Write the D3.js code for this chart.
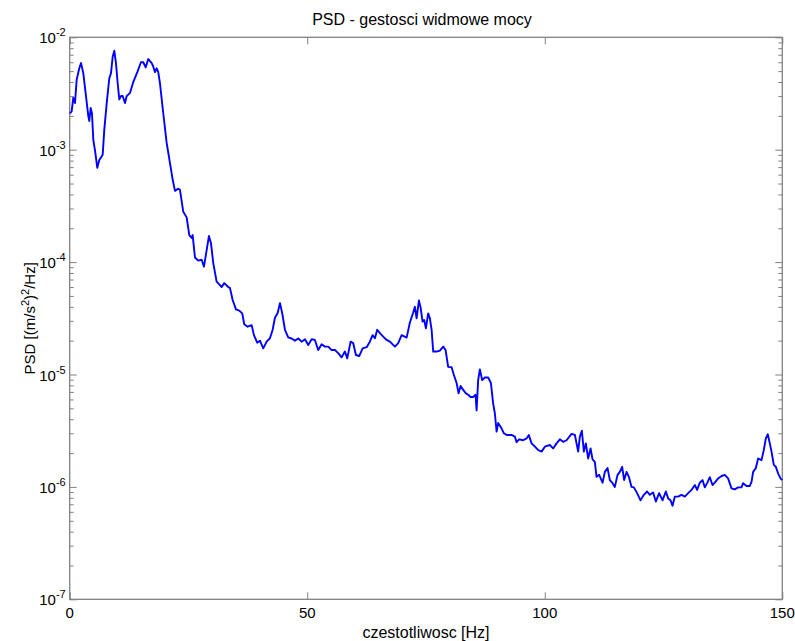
<!DOCTYPE html>
<html>
<head>
<meta charset="utf-8">
<script src="https://cdn.jsdelivr.net/npm/d3@7"></script>
<style>
  body { margin: 0; background: #fff; }
  svg { display: block; font-family: "Liberation Sans", Arial, sans-serif; }
</style>
</head>
<body>
<svg width="795" height="641"></svg>
<script>
// frequency [Hz]
var freq = [0.06, 0.42, 0.76, 1.12, 1.47, 2.02, 2.38, 2.86, 3.43, 3.91, 4.12, 4.42, 4.69, 4.97, 5.32, 5.81, 6.23, 6.94, 7.28, 7.79,
  8.33, 8.69, 9.05, 9.39, 9.74, 10.10, 10.44, 10.80, 11.15, 11.64, 12.0, 12.69, 13.38, 14.23, 15.0, 15.49, 15.99, 16.54, 17.26, 17.59,
  17.95, 18.31, 18.64, 19.0, 19.70, 20.41, 21.11, 21.68, 22.16, 22.79, 23.21, 23.91, 24.62, 25.17, 25.67, 25.88, 26.37, 27.06, 27.78, 28.26,
  28.83, 29.31, 29.73, 30.22, 30.93, 31.63, 31.99, 32.53, 33.38, 33.73, 34.30, 35.0, 35.69, 36.32, 36.74, 37.46, 38.30, 38.78, 39.48, 40.05,
  40.74, 41.46, 42.15, 42.72, 43.20, 43.77, 44.26, 44.74, 45.31, 46.0, 46.72, 47.41, 48.11, 48.82, 49.52, 50.21, 50.93, 51.62, 52.31, 53.03,
  53.72, 54.42, 55.13, 55.83, 56.52, 57.24, 57.93, 58.42, 59.13, 59.68, 60.25, 60.94, 61.66, 62.50, 63.19, 63.76, 64.25, 64.73, 65.30, 65.99,
  66.71, 67.40, 68.46, 69.15, 69.87, 70.92, 71.61, 72.31, 72.66, 73.02, 73.51, 73.86, 74.28, 74.62, 74.98, 75.46, 75.82, 76.18, 76.52, 77.23,
  77.93, 78.62, 79.12, 79.67, 80.39, 80.87, 81.44, 81.86, 82.28, 82.83, 83.40, 83.88, 84.39, 84.93, 85.44, 85.65, 85.98, 86.34, 86.83, 87.39,
  88.09, 88.66, 89.14, 89.50, 89.86, 90.19, 90.76, 91.39, 91.96, 93.01, 93.71, 94.07, 94.61, 95.45, 96.17, 96.65, 97.22, 97.92, 98.61, 99.33,
  100.02, 101.07, 101.77, 102.48, 103.18, 103.87, 104.59, 105.64, 106.34, 107.03, 107.39, 107.81, 108.23, 108.65, 109.13, 109.64, 110.06, 110.54, 110.90, 111.45,
  112.16, 112.65, 113.22, 113.70, 114.27, 114.75, 115.32, 115.80, 116.29, 116.71, 117.21, 117.70, 118.27, 118.75, 119.44, 120.16, 120.85, 121.55, 122.12, 122.81,
  123.38, 124.07, 124.79, 125.48, 125.97, 126.47, 126.89, 127.38, 128.07, 128.79, 129.48, 130.18, 130.89, 131.59, 132.07, 132.64, 133.21, 133.69, 134.18, 134.74,
  135.31, 135.80, 136.49, 137.21, 137.90, 138.59, 139.31, 140.0, 140.70, 141.41, 141.75, 142.47, 143.16, 143.52, 143.86, 144.43, 144.91, 145.62, 146.11, 146.53,
  146.95, 147.37, 147.73, 148.21, 148.63, 149.12, 149.62, 149.96];

// PSD [(m/s^2)^2/Hz]
var psd = [2.1e-3, 2.2e-3, 2.9e-3, 2.6e-3, 4.2e-3, 5.3e-3, 5.9e-3, 4.8e-3, 3.0e-3, 2.0e-3, 1.8e-3, 2.35e-3, 2.1e-3, 1.22e-3, 9.9e-4, 6.9e-4, 8.1e-4, 9.0e-4, 1.5e-3, 2.6e-3,
  4.3e-3, 4.8e-3, 6.7e-3, 7.6e-3, 5.9e-3, 3.9e-3, 2.8e-3, 3.0e-3, 3.0e-3, 2.6e-3, 3.0e-3, 3.2e-3, 4.0e-3, 4.9e-3, 6.0e-3, 6.0e-3, 5.4e-3, 6.4e-3, 5.9e-3, 5.5e-3,
  4.9e-3, 5.3e-3, 4.9e-3, 3.9e-3, 2.1e-3, 1.15e-3, 7.6e-4, 5.4e-4, 4.3e-4, 4.5e-4, 4.4e-4, 2.8e-4, 2.5e-4, 1.74e-4, 1.64e-4, 1.74e-4, 1.10e-4, 1.03e-4, 1.05e-4, 9.1e-5,
  1.28e-4, 1.71e-4, 1.48e-4, 9.8e-5, 6.7e-5, 6.25e-5, 6.0e-5, 6.5e-5, 6.0e-5, 5.9e-5, 4.6e-5, 3.8e-5, 3.7e-5, 3.5e-5, 2.8e-5, 2.66e-5, 2.75e-5, 2.24e-5, 1.92e-5, 2.0e-5,
  1.71e-5, 1.96e-5, 2.1e-5, 2.5e-5, 3.2e-5, 3.52e-5, 4.3e-5, 3.5e-5, 2.5e-5, 2.14e-5, 2.09e-5, 2.0e-5, 2.09e-5, 1.96e-5, 2.06e-5, 1.83e-5, 2.06e-5, 2.03e-5, 1.65e-5, 1.86e-5,
  1.77e-5, 1.77e-5, 1.65e-5, 1.65e-5, 1.55e-5, 1.42e-5, 1.6e-5, 1.39e-5, 1.96e-5, 1.9e-5, 1.49e-5, 1.46e-5, 1.71e-5, 1.75e-5, 1.96e-5, 2.24e-5, 2.1e-5, 2.5e-5, 2.33e-5, 2.17e-5,
  2.03e-5, 1.96e-5, 1.77e-5, 1.9e-5, 2.24e-5, 2.13e-5, 2.9e-5, 3.56e-5, 4.0e-5, 3.16e-5, 4.55e-5, 3.95e-5, 2.96e-5, 3.05e-5, 2.58e-5, 3.5e-5, 3.16e-5, 2.5e-5, 1.6e-5, 1.6e-5,
  1.63e-5, 1.77e-5, 1.65e-5, 1.17e-5, 1.16e-5, 9.9e-6, 8.4e-6, 6.8e-6, 7.9e-6, 7.3e-6, 6.8e-6, 6.6e-6, 6.3e-6, 6.3e-6, 6.6e-6, 4.8e-6, 8.9e-6, 1.11e-5, 8.9e-6, 9.4e-6,
  9.4e-6, 8.4e-6, 5.5e-6, 4.5e-6, 3.1e-6, 3.7e-6, 3.4e-6, 3.0e-6, 2.9e-6, 2.9e-6, 2.8e-6, 2.5e-6, 2.65e-6, 2.6e-6, 2.7e-6, 2.9e-6, 2.44e-6, 2.28e-6, 2.13e-6, 2.06e-6,
  2.28e-6, 2.36e-6, 2.2e-6, 2.44e-6, 2.65e-6, 2.52e-6, 2.6e-6, 2.96e-6, 2.9e-6, 2.06e-6, 2.8e-6, 3.16e-6, 2.06e-6, 2.44e-6, 1.79e-6, 2.2e-6, 1.76e-6, 1.67e-6, 1.23e-6, 1.28e-6,
  1.09e-6, 1.36e-6, 1.47e-6, 1.15e-6, 1.08e-6, 1.0e-6, 1.28e-6, 1.36e-6, 1.51e-6, 1.15e-6, 1.36e-6, 1.23e-6, 1.0e-6, 9.9e-7, 8.8e-7, 7.6e-7, 8.5e-7, 9.1e-7, 8.5e-7, 8.9e-7,
  7.4e-7, 8.8e-7, 7.6e-7, 9.1e-7, 7.9e-7, 7.6e-7, 6.8e-7, 8.2e-7, 8.2e-7, 8.5e-7, 8.2e-7, 8.8e-7, 9.4e-7, 1.04e-6, 9.4e-7, 1.09e-6, 1.15e-6, 9.9e-7, 1.08e-6, 1.22e-6,
  1.04e-6, 1.09e-6, 1.19e-6, 1.25e-6, 1.28e-6, 1.19e-6, 9.7e-7, 9.5e-7, 9.9e-7, 9.9e-7, 1.08e-6, 1.02e-6, 1.02e-6, 1.11e-6, 1.36e-6, 1.47e-6, 1.79e-6, 1.73e-6, 2.13e-6, 2.7e-6,
  2.94e-6, 2.44e-6, 2.06e-6, 1.57e-6, 1.51e-6, 1.32e-6, 1.19e-6, 1.15e-6];

var xTicks = [0, 50, 100, 150];
var yExponents = [-7, -6, -5, -4, -3, -2];

var titleText = 'PSD - gestosci widmowe mocy';
var xLabelText = 'czestotliwosc [Hz]';

var svg = d3.select('svg');
var plot = { left: 69.7, right: 782.3, top: 37.3, bottom: 599.3 };
var axisColor = '#808080';

var x = d3.scaleLinear().domain([0, 150]).range([plot.left, plot.right]);
var y = d3.scaleLog().domain([1e-7, 1e-2]).range([plot.bottom, plot.top]);

// minor ticks 2..9 in every decade
var minorTicks = [];
yExponents.slice(0, -1).forEach(function (e) {
  for (var k = 2; k <= 9; k++) minorTicks.push(k * Math.pow(10, e));
});
var majorTicks = yExponents.map(function (e) { return Math.pow(10, e); });

function styleAxis(g) {
  g.select('.domain').remove();
  g.selectAll('.tick line').attr('stroke', axisColor);
  g.selectAll('.tick text').remove();
}

// x ticks bottom and top (pointing inside)
svg.append('g')
  .attr('transform', 'translate(0,' + plot.bottom + ')')
  .call(d3.axisBottom(x).tickValues(xTicks).tickSize(-7))
  .call(styleAxis);
svg.append('g')
  .attr('transform', 'translate(0,' + plot.top + ')')
  .call(d3.axisTop(x).tickValues(xTicks).tickSize(-7))
  .call(styleAxis);

// y ticks left and right
[[d3.axisLeft, plot.left], [d3.axisRight, plot.right]].forEach(function (a) {
  svg.append('g')
    .attr('transform', 'translate(' + a[1] + ',0)')
    .call(a[0](y).tickValues(majorTicks).tickSize(-7))
    .call(styleAxis);
  svg.append('g')
    .attr('transform', 'translate(' + a[1] + ',0)')
    .call(a[0](y).tickValues(minorTicks).tickSize(-4))
    .call(styleAxis);
});

// frame
svg.append('rect')
  .attr('x', plot.left).attr('y', plot.top)
  .attr('width', plot.right - plot.left).attr('height', plot.bottom - plot.top)
  .attr('fill', 'none').attr('stroke', axisColor).attr('stroke-width', 1.3);

// x tick labels
svg.append('g').selectAll('text')
  .data(xTicks)
  .enter()
  .append('text')
  .attr('x', function (d) { return x(d); })
  .attr('y', plot.bottom + 19)
  .attr('text-anchor', 'middle')
  .attr('font-size', 15)
  .text(function (d) { return d; });

// y tick labels 10^e
var yl = svg.append('g').selectAll('text')
  .data(yExponents)
  .enter()
  .append('text')
  .attr('x', plot.left - 4)
  .attr('y', function (d) { return y(Math.pow(10, d)) + 6; })
  .attr('text-anchor', 'end')
  .attr('font-size', 15);
yl.append('tspan').text('10');
yl.append('tspan').attr('dy', -7).attr('font-size', 11).text(function (d) { return '-' + Math.abs(d); });

// the curve
var line = d3.line()
  .x(function (d, i) { return x(freq[i]); })
  .y(function (d) { return y(d); });

svg.append('path')
  .datum(psd)
  .attr('d', line)
  .attr('fill', 'none')
  .attr('stroke', '#0000ff')
  .attr('stroke-width', 1.9)
  .attr('stroke-linejoin', 'round');

// title and axis labels
svg.append('text')
  .attr('x', 422)
  .attr('y', 25)
  .attr('text-anchor', 'middle')
  .attr('font-size', 16)
  .text(titleText);

svg.append('text')
  .attr('x', (plot.left + plot.right) / 2)
  .attr('y', 638)
  .attr('text-anchor', 'middle')
  .attr('font-size', 16)
  .text(xLabelText);

var ylab = svg.append('text')
  .attr('transform', 'translate(35,' + ((plot.top + plot.bottom) / 2) + ') rotate(-90)')
  .attr('text-anchor', 'middle')
  .attr('font-size', 15);
ylab.append('tspan').text('PSD [(m/s');
ylab.append('tspan').attr('dy', -6).attr('font-size', 11).text('2');
ylab.append('tspan').attr('dy', 6).text(')');
ylab.append('tspan').attr('dy', -6).attr('font-size', 11).text('2');
ylab.append('tspan').attr('dy', 6).text('/Hz]');
</script>
</body>
</html>
